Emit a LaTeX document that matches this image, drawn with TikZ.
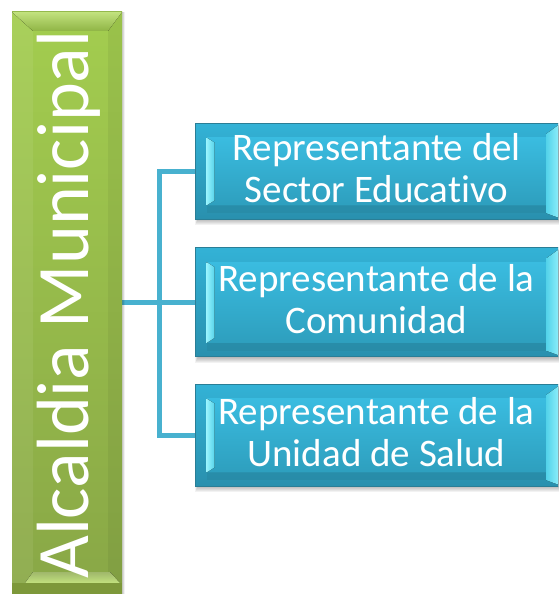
\documentclass[tikz,border=0pt]{standalone}
\usepackage{fontspec}
\setmainfont{Carlito}[Ligatures={NoCommon}]
\usetikzlibrary{calc,backgrounds}
\definecolor{gtop}{HTML}{A3CD4F}
\definecolor{gbot}{HTML}{88A646}
\definecolor{glight}{HTML}{C2E27E}
\definecolor{gdark}{HTML}{7D983A}
\definecolor{frametop}{HTML}{33B2D6}
\definecolor{framebot}{HTML}{2990AE}
\definecolor{btop}{HTML}{3ABCE0}
\definecolor{bbot}{HTML}{2E9FBE}
\definecolor{bedge}{HTML}{2A7E96}
\definecolor{bcyan}{HTML}{96F3FD}
\definecolor{bcyan2}{HTML}{55D3EA}
\definecolor{connc}{HTML}{48B1CF}
\begin{document}
\begin{tikzpicture}[x=1pt,y=-1pt,
  connector/.style={draw=connc, line width=5pt},
  bluebox/.style={rectangle, draw=bedge, line width=0.8pt, top color=frametop, bottom color=framebot,
    minimum width=374pt, minimum height=#1, inner sep=0pt},
  bluetext/.style={text=white, align=center, font=\fontsize{39}{42}\selectfont, inner sep=0pt},
  greenbox/.style={rectangle, draw=none, top color=gtop, bottom color=gbot,
    minimum width=110pt, minimum height=600pt, inner sep=0pt}]
\useasboundingbox (0,0) rectangle (558,594);
\clip (0,0) rectangle (558,594);

% green box
\foreach \k in {1,...,4}{
  \fill[black,opacity=0.05] (12+\k,12) rectangle (122+\k*0.8,600);
}
\node[greenbox] (g) at (67,312) {};
\fill[white, opacity=0.07] (12,12) -- (33,31) -- (33,572) -- (25,583) -- (12,594) -- cycle;
\fill[black, opacity=0.05] (122,12) -- (108,31) -- (108,572) -- (118,583) -- (122,594) -- cycle;
\fill[top color=glight, bottom color=gtop!88!black] (12,12) -- (122,12) -- (108,31) -- (33,31) -- cycle;
\fill[top color=gbot!80!white, bottom color=glight] (33,572) -- (110,572) -- (120,583) -- (25,583) -- cycle;
\fill[gdark] (12,583) -- (122,583) -- (122,594) -- (12,594) -- cycle;
\node[text=white, rotate=90, anchor=base west, inner sep=0pt, font=\fontsize{74}{80}\selectfont] (gt) at (88,579) {Alcaldia Municipal};

% blue boxes
\node[bluebox=96pt] (b1) at (382,171) {};
\node[bluebox=109pt] (b2) at (382,302) {};
\node[bluebox=102pt] (b3) at (382,435) {};
\foreach \b in {b1,b2,b3}{
  \fill[top color=btop, bottom color=bbot] ($(\b.north west)+(12,15)$) rectangle ($(\b.south west)+(352,-14)$);
  \fill[bbot!85!black, opacity=0.5] ($(\b.south west)+(12,-14)$) rectangle ($(\b.south west)+(352,-6)$);
  \fill[left color=bcyan, right color=bcyan2] ($(\b.north west)+(12,15)$) -- ($(\b.north west)+(20,20)$) -- ($(\b.south west)+(20,-19)$) -- ($(\b.south west)+(12,-14)$) -- cycle;
  \fill[left color=bcyan2, right color=bcyan] ($(\b.north west)+(352,11)$) -- ($(\b.north west)+(366,1)$) -- ($(\b.south west)+(366,-1)$) -- ($(\b.south west)+(352,-6)$) -- cycle;
}
\node[bluetext] (t1) at ($(b1.center)+(-5.5,-3)$) {Representante del\\Sector Educativo};
\node[bluetext] (t2) at ($(b2.center)+(-5.5,-3)$) {Representante de la\\Comunidad};
\node[bluetext] (t3) at ($(b3.center)+(-5.5,-3)$) {Representante de la\\Unidad de Salud};

\begin{scope}[on background layer]
  \foreach \b in {b1,b2,b3}{
    \foreach \k in {1,...,6}{
      \fill[black,opacity=0.05] ($(\b.north west)+(\k*0.5,\k)$) rectangle ($(\b.south east)+(4-\k*0.5,7-\k)$);
    }
  }
  \coordinate (J) at (159,302);
  \draw[connector] (g.east |- J) -- (J);
  \draw[connector] (b1.west) -| (J) |- (b3.west);
  \draw[connector] (J) -- (b2.west);
\end{scope}
\end{tikzpicture}
\end{document}
